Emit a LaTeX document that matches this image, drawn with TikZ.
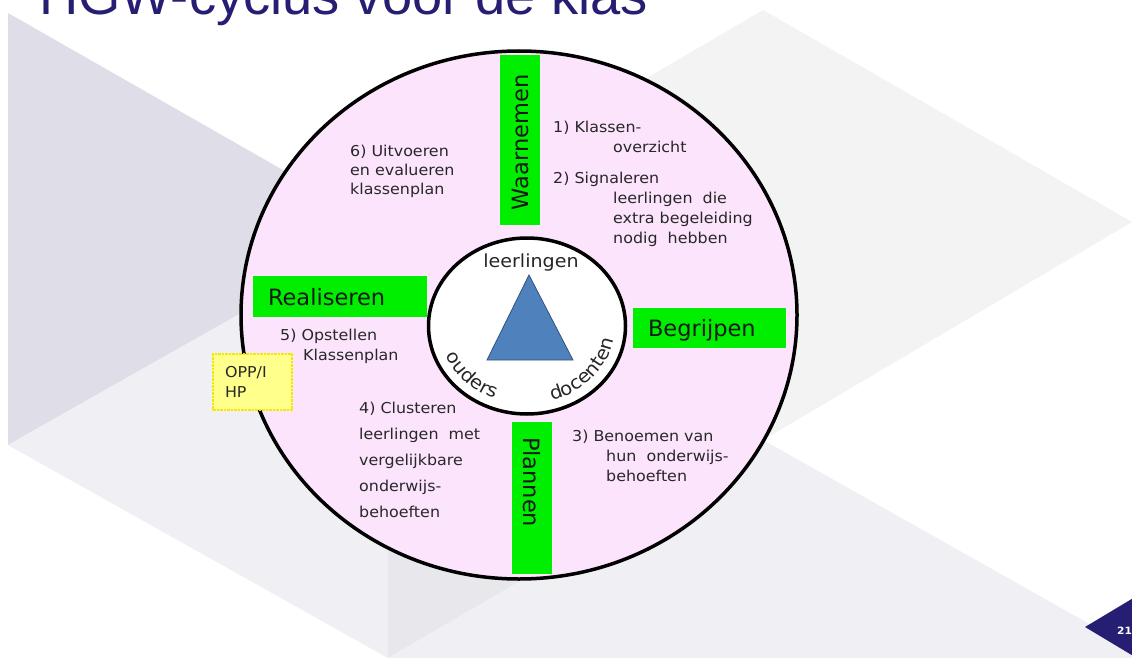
\documentclass[tikz,border=0pt]{standalone}
\usepackage{fontspec}
\setmainfont{DejaVu Sans}[FakeStretch=1.06]
\newfontfamily\fasefont{DejaVu Sans}
\newfontfamily\titelfont{Liberation Sans}
\definecolor{titelblauw}{RGB}{38, 30, 115}
\definecolor{fasegroen}{RGB}{0, 238, 0}
\definecolor{cirkelroze}{RGB}{252, 228, 252}
\definecolor{driehoekblauw}{RGB}{79, 129, 189}
\definecolor{driehoekrand}{RGB}{52, 82, 124}
\definecolor{notageel}{RGB}{255, 255, 140}
\definecolor{notarand}{RGB}{242, 232, 0}
\definecolor{tekstgrijs}{RGB}{40, 40, 40}
\definecolor{vlakdonker}{RGB}{222, 221, 232}
\definecolor{vlaklicht}{RGB}{239, 239, 244}
\definecolor{vlakgrijs}{RGB}{243, 243, 243}
\definecolor{vlakmidden}{RGB}{232, 232, 236}
\usepackage{tikz}
\usetikzlibrary{shapes, positioning, calc, decorations.text}

\begin{document}
\begin{tikzpicture}[x=1pt, y=-1pt,
    fase/.style={fill=fasegroen, inner xsep=15pt, inner ysep=0pt, align=left, text depth=0pt,
      font=\fasefont\fontsize{22.5}{27}\selectfont, text=black!90},
    stap/.style={anchor=base west, inner sep=0pt, align=left, text=tekstgrijs},
    kern/.style={font=\fontsize{18}{21}\selectfont, text=black!85, inner sep=0pt},
    boogtekst/.style={decorate, decoration={text along path, text align=center, text={|\fontsize{18.5}{22}\selectfont\color{black!85}|#1}}}]
  \useasboundingbox (0,0) rectangle (1132,658);
  \fill[white] (0,0) rectangle (1132,658);

  % Achtergrond
  \fill[vlakdonker] (8,13) -- (8,445) -- (388,230) -- cycle;
  \fill[vlaklicht] (8,445) -- (388,230) -- (388,658) -- cycle;
  \fill[vlakgrijs] (763,10) -- (388,230) -- (763,440) -- cycle;
  \fill[vlakmidden] (388,230) -- (763,440) -- (388,658) -- cycle;
  \fill[vlaklicht] (388,658) -- (763,440) -- (763,658) -- cycle;
  \fill[vlakgrijs] (763,10) -- (1132,222) -- (763,440) -- cycle;
  \fill[vlaklicht] (763,440) -- (1132,648) -- (1132,658) -- (763,658) -- cycle;

  % Titel
  \node[anchor=base west, inner sep=0pt, font=\titelfont\fontsize{54.3}{60}\selectfont, text=titelblauw] (titel) at (39,15) {HGW-cyclus voor de klas};

  % Cirkels
  \node[ellipse, draw=black, line width=3.5pt, fill=cirkelroze, minimum width=556pt, minimum height=528pt, inner sep=0pt] (cyclus) at (519,315) {};
  \node[ellipse, draw=black, line width=3.5pt, fill=white, minimum width=197pt, minimum height=176pt, inner sep=0pt] (kern) at (527,326) {};

  % Driehoek
  \draw[fill=driehoekblauw, draw=driehoekrand, line width=0.8pt] (529,275) -- (573,360) -- (487,360) -- cycle;
  \node[kern] (leerlingen) at (531,263) {leerlingen};
  \path[boogtekst=ouders] ($(kern.center)+(170:88 and 78)$) arc[start angle=170, end angle=100, x radius=88, y radius=78];
  \path[boogtekst=docenten] ($(kern.center)+(84:88 and 78)$) arc[start angle=84, end angle=-2, x radius=88, y radius=78];

  % Fasen
  \node[fase, rotate=90, text width=140pt, minimum height=40pt] (waarnemen) at (520,140) {Waarnemen};
  \node[fase, text width=123pt, minimum height=40pt] (begrijpen) at (709.5,328) {Begrijpen};
  \node[fase, rotate=-90, text width=122pt, minimum height=40pt] (plannen) at (532,498) {Plannen};
  \node[fase, text width=144pt, minimum height=41pt] (realiseren) at (340,296.5) {Realiseren};

  % Stappen (anker op de basislijn van de laatste regel)
  \node[stap, font=\fontsize{15}{20}\selectfont] (stap1) at (553,153) {1) Klassen-\\\hspace*{60pt}overzicht};
  \node[stap, font=\fontsize{15}{20}\selectfont] (stap2) at (553,243) {2) Signaleren\\\hspace*{60pt}leerlingen\ \ die\\\hspace*{60pt}extra begeleiding\\\hspace*{60pt}nodig\ \ hebben};
  \node[stap, font=\fontsize{15}{20}\selectfont] (stap3) at (572,481) {3) Benoemen van\\\hspace*{34pt}hun\ \ onderwijs-\\\hspace*{34pt}behoeften};
  \node[stap, font=\fontsize{15}{26}\selectfont] (stap4) at (359,517) {4) Clusteren\\leerlingen\ \ met\\vergelijkbare\\onderwijs-\\behoeften};
  \node[stap, font=\fontsize{15}{20}\selectfont] (stap5) at (280,360) {5) Opstellen\\\hspace*{23pt}Klassenplan};
  \node[stap, font=\fontsize{15}{19}\selectfont] (stap6) at (350,194) {6) Uitvoeren\\en evalueren\\klassenplan};

  % Notitie
  \node[draw=notarand, fill=notageel, densely dotted, line width=2.5pt, minimum width=79pt, minimum height=56pt, text width=55pt, inner xsep=12pt, align=left, font=\fontsize{15}{20}\selectfont, text=tekstgrijs] (opp) at (252.5,382) {OPP/I\\HP};

  % Paginanummer
  \fill[titelblauw] (1085,627) -- (1140,594) -- (1140,660) -- cycle;
  \node[anchor=west, inner sep=0pt, font=\bfseries\fontsize{10}{12}\selectfont, text=white] (pagina) at (1117,631) {21};
\end{tikzpicture}
\end{document}
